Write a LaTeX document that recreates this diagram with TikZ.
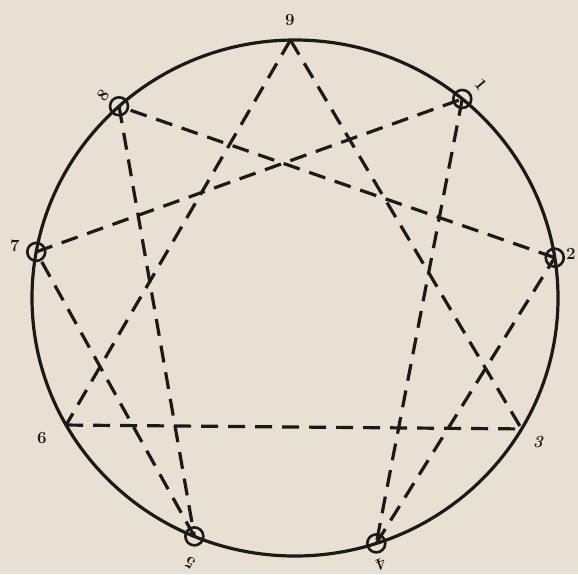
\documentclass[tikz,border=0pt]{standalone}
\definecolor{paper}{RGB}{231,224,211}
\definecolor{ink}{RGB}{28,26,24}
\begin{document}
\begin{tikzpicture}[x=1pt,y=-1pt,
  ring/.style={line width=3.2pt, draw=ink},
  dline/.style={line width=3.2pt, draw=ink, dash pattern=on 17pt off 10pt},
  marker/.style={circle, draw=ink, line width=2.6pt, minimum size=18pt, inner sep=0pt},
  lbl/.style={font=\fontsize{17}{17}\selectfont\bfseries, text=ink, inner sep=0pt}]
\fill[paper] (0,0) rectangle (578,574);
\useasboundingbox (0,0) rectangle (578,574);
\coordinate (c) at (295,298);
\draw[ring] (c) ellipse [x radius=263pt, y radius=258pt];
\path (c) ++(91:263pt and 258pt) coordinate (p9);
\path (c) ++(50.5:263pt and 258pt) coordinate (p1);
\path (c) ++(9:263pt and 258pt) coordinate (p2);
\path (c) ++(-30.5:263pt and 258pt) coordinate (p3);
\path (c) ++(-72:263pt and 258pt) coordinate (p4);
\path (c) ++(-112.5:263pt and 258pt) coordinate (p5);
\path (c) ++(-150.5:263pt and 258pt) coordinate (p6);
\path (c) ++(169.7:263pt and 258pt) coordinate (p7);
\path (c) ++(132:263pt and 258pt) coordinate (p8);
% triangle
\draw[dline] (p9) -- (p3);
\draw[dline] (p9) -- (p6);
\draw[dline] (p6) -- (p3);
% hexad
\draw[dline] (p1) -- (p4);
\draw[dline] (p4) -- (p2);
\draw[dline] (p2) -- (p8);
\draw[dline] (p8) -- (p5);
\draw[dline] (p5) -- (p7);
\draw[dline] (p7) -- (p1);
% markers
\node[marker] (m1) at (p1) {};
\node[marker] (m2) at (p2) {};
\node[marker] (m4) at (p4) {};
\node[marker] (m5) at (p5) {};
\node[marker] (m7) at (p7) {};
\node[marker] (m8) at (p8) {};
% labels
\node[lbl] (l9) at (290,20) {9};
\node[lbl, rotate=-50] (l1) at (481,85) {1};
\node[lbl] (l2) at (571,254) {2};
\node[lbl] (l3) at (538,442) {\itshape 3};
\node[lbl, rotate=-160] (l4) at (381,564) {4};
\node[lbl, rotate=150] (l5) at (190,563) {5};
\node[lbl] (l6) at (42,438) {6};
\node[lbl] (l7) at (15,246) {7};
\node[lbl, rotate=50] (l8) at (103,95) {8};
\end{tikzpicture}
\end{document}
